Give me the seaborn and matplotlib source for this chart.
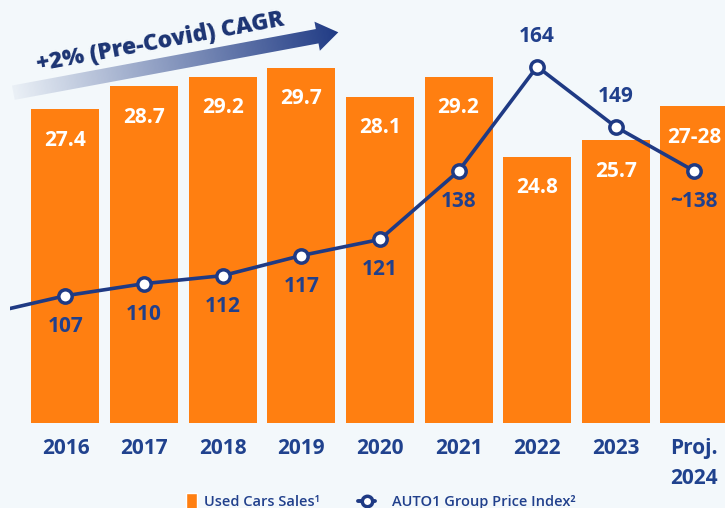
import numpy as np
import pandas as pd
import matplotlib
matplotlib.use("Agg")
import matplotlib.pyplot as plt
import seaborn as sns
from matplotlib.patches import Polygon, Rectangle, Patch
from matplotlib.lines import Line2D
from matplotlib.legend_handler import HandlerPatch, HandlerBase

# ---------------- data ----------------
years = [2016, 2017, 2018, 2019, 2020, 2021, 2022, 2023, 2024]
tick_labels = ["2016", "2017", "2018", "2019", "2020", "2021", "2022", "2023", "Proj.\n2024"]
sales = [27.4, 28.7, 29.2, 29.7, 28.1, 29.2, 24.8, 25.7, 27.6]
sales_labels = ["27.4", "28.7", "29.2", "29.7", "28.1", "29.2", "24.8", "25.7", "27-28"]
index_years = [2015, 2016, 2017, 2018, 2019, 2020, 2021, 2022, 2023, 2024]
price_index = [102.5, 107, 110, 112, 117, 121, 138, 164, 149, 138]
index_labels = ["", "107", "110", "112", "117", "121", "138", "164", "149", "~138"]
labels_above = [2022, 2023]
legend_labels = ["Used Cars Sales\u00b9", "AUTO1 Group Price Index\u00b2"]
cagr_text = "+2% (Pre-Covid) CAGR"

# ---------------- style ----------------
BG = "#F3F8FB"
ORANGE = "#FF7F11"
LINE = "#1F3A84"
NAVY_TXT = "#21408C"
TICK = "#20428E"

sns.set_theme(style="white")
plt.rcParams["font.family"] = ["Open Sans", "DejaVu Sans"]

W, H = 725, 508
fig = plt.figure(figsize=(W / 100, H / 100), dpi=100, facecolor=BG)
ax_left, ax_bottom_px = 10, 423
ax = fig.add_axes([ax_left / W, 1 - ax_bottom_px / H, (W - ax_left) / W, ax_bottom_px / H])
ax.set_facecolor(BG)

df = pd.DataFrame({"year": years, "sales": sales})
sns.barplot(data=df, x="year", y="sales", color=ORANGE, saturation=1,
            width=0.865, linewidth=0, ax=ax, zorder=1)

XLIM = (-0.706, 8.39)
ax.set_xlim(*XLIM)
ax.set_ylim(10.15, 33.42)
ax.set_xticks(range(len(years)))
ax.set_xticklabels(tick_labels, fontsize=15, fontweight="bold", color=TICK)
for t in ax.get_xticklabels():
    t.set_linespacing(1.55)
ax.tick_params(axis="x", length=0, pad=11)
ax.set_yticks([])
ax.set_xlabel("")
ax.set_ylabel("")
for s in ax.spines.values():
    s.set_visible(False)

for i, (v, lab) in enumerate(zip(sales, sales_labels)):
    ax.annotate(lab, (i, v), xytext=(0, -22.5), textcoords="offset points",
                ha="center", va="center", color="white", fontsize=15, fontweight="bold",
                zorder=3)

# ---------------- line on twin axis ----------------
ax2 = ax.twinx()
line_df = pd.DataFrame({"pos": np.array(index_years) - years[0], "idx": price_index})
sns.lineplot(data=line_df, x="pos", y="idx", ax=ax2, color=LINE, linewidth=2.6,
             marker="o", markersize=9.6, markerfacecolor="white",
             markeredgecolor=LINE, markeredgewidth=2.5, sort=False)
ax2.set_xlim(*XLIM)
ax2.set_ylim(75.34, 180.56)
ax2.set_yticks([])
ax2.set_ylabel("")
for s in ax2.spines.values():
    s.set_visible(False)

for yr, v, lab in zip(index_years, price_index, index_labels):
    if not lab:
        continue
    off = 22 if yr in labels_above else -22
    ax2.annotate(lab, (yr - years[0], v), xytext=(0, off), textcoords="offset points",
                 ha="center", va="center", color=NAVY_TXT, fontsize=15, fontweight="bold")

# ---------------- legend ----------------
def bar_handle(legend, orig_handle, xdescent, ydescent, width, height, fontsize):
    w = 7.9
    return Rectangle((-xdescent + width - w, -ydescent - 1), w, height + 1,
                     facecolor=ORANGE, edgecolor="none")


class LineMarkerHandler(HandlerBase):
    def create_artists(self, legend, orig_handle, xdescent, ydescent, width, height,
                       fontsize, trans):
        y = height / 2 - ydescent
        x0 = -xdescent
        x1 = -xdescent + width - 6.5
        ln = Line2D([x0, x1], [y, y], color=LINE, lw=2.8, transform=trans)
        mk = Line2D([(x0 + x1) / 2], [y], marker="o", markersize=7.5, linestyle="none",
                    markerfacecolor="white", markeredgecolor=LINE, markeredgewidth=2.5,
                    transform=trans)
        return [ln, mk]


line_h = Line2D([], [], color=LINE)
handles = [Patch(facecolor=ORANGE), line_h]
leg = fig.legend(handles, legend_labels, loc="center", bbox_to_anchor=(373 / W, 1 - 501 / H),
                 ncol=2, frameon=False, fontsize=10.5, handlelength=1.8, handleheight=1.2,
                 handletextpad=0.5, columnspacing=2.6,
                 handler_map={Patch: HandlerPatch(patch_func=bar_handle),
                              line_h: LineMarkerHandler()})
for t in leg.get_texts():
    t.set_color(NAVY_TXT)
    t.set_fontweight("semibold")

# ---------------- gradient arrow + CAGR text ----------------
axo = fig.add_axes([0, 0, 1, 1], zorder=5)
axo.set_xlim(0, W)
axo.set_ylim(H, 0)
axo.axis("off")
axo.patch.set_alpha(0)

tail = np.array([13.3, 92.7])
tip = np.array([338.3, 32.3])
d = tip - tail
L = np.hypot(*d)
d = d / L
n = np.array([-d[1], d[0]])
w_shaft, w_head, head_len = 7.3, 14.8, 21.5
base = tip - d * head_len
pts = [tail + n * w_shaft, base + n * w_shaft, base + n * w_head, tip,
       base - n * w_head, base - n * w_shaft, tail - n * w_shaft]
poly = Polygon(pts, closed=True, facecolor="none", edgecolor="none", transform=axo.transData)
axo.add_patch(poly)

xx, yy = np.meshgrid(np.arange(W) + 0.5, np.arange(H) + 0.5)
tt = np.clip(((xx - tail[0]) * d[0] + (yy - tail[1]) * d[1]) / L, 0, 1)
rgb = np.array(matplotlib.colors.to_rgb(LINE))
img = np.zeros((H, W, 4))
img[..., :3] = rgb
img[..., 3] = 0.04 + 0.96 * tt ** 1.0
im = axo.imshow(img, extent=(0, W, H, 0), origin="upper", interpolation="bilinear", aspect="auto")
im.set_clip_path(poly)

axo.text(160, 42, cagr_text, rotation=10.5, rotation_mode="anchor", ha="center", va="center",
         fontsize=16.5, fontweight="heavy", color="#1C3473")

fig.savefig("out.png", dpi=100, facecolor=BG)
